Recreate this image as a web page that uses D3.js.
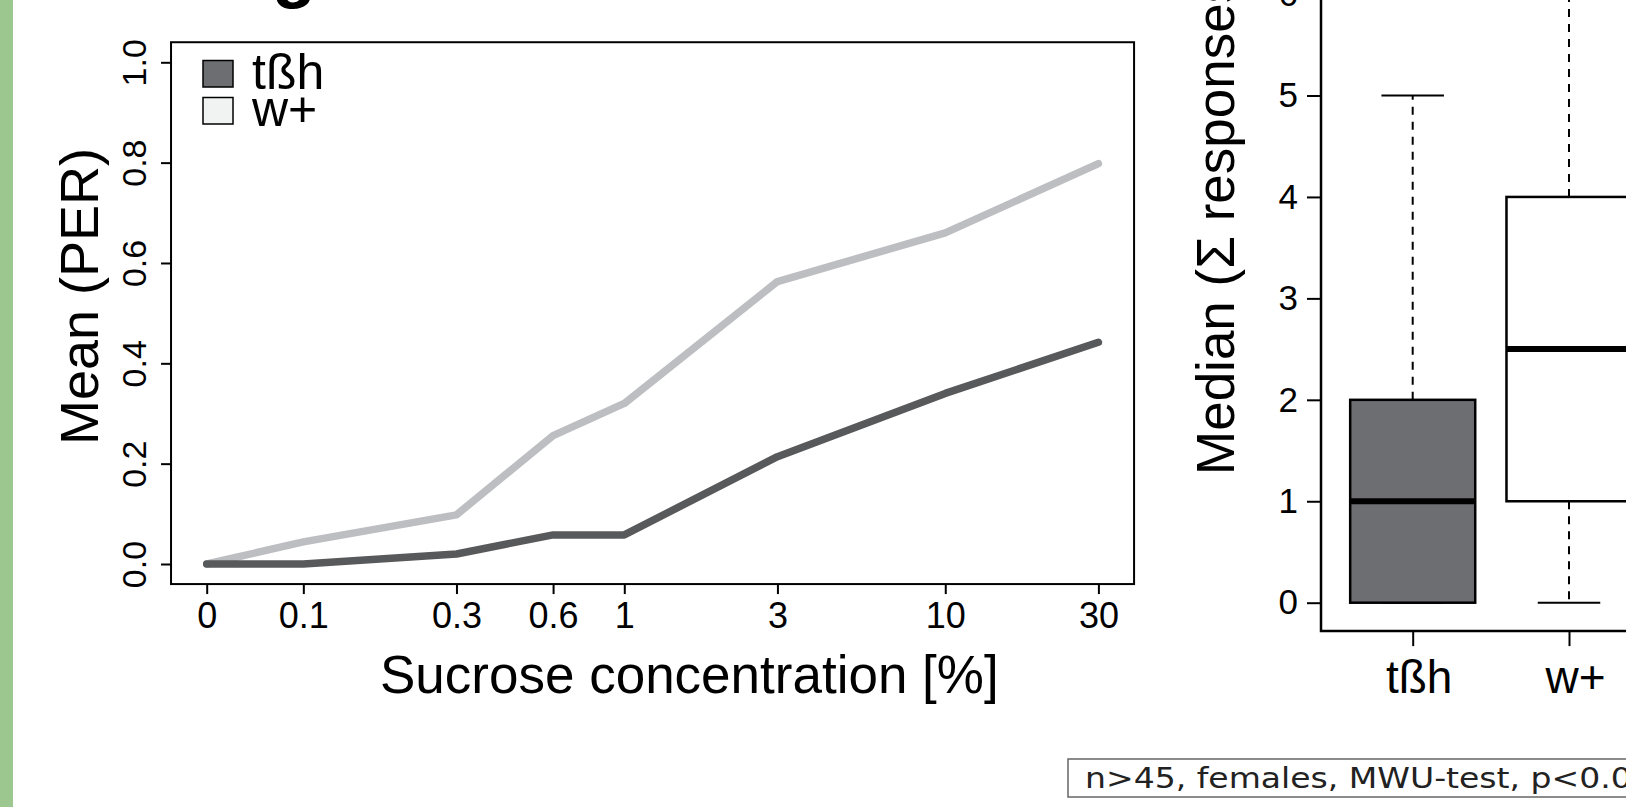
<!DOCTYPE html>
<html>
<meta charset="utf-8">
<style>
  body { margin: 0; background: #fff; }
  svg { display: block; font-family: "Liberation Sans", Arial, sans-serif; }
  .axis path { display: none; }
  .axis line { stroke: #000; stroke-width: 2; }
  .axis text { fill: #000; }
</style>
<body>
<script src="https://cdn.jsdelivr.net/npm/d3@7"></script>
<script>
// --- data ---
var concLabels = ["0", "0.1", "0.3", "0.6", "1", "3", "10", "30"];
var concValues = [0, 0.1, 0.3, 0.6, 1, 3, 10, 30];
var tbhMean = [0, 0, 0.02, 0.058, 0.058, 0.214, 0.34, 0.442];
var wMean   = [0, 0.044, 0.098, 0.256, 0.32, 0.563, 0.66, 0.798];
var yTicks = [0, 0.2, 0.4, 0.6, 0.8, 1.0];

var groups = ["tßh", "w+"];
var boxLow = [0, 1];
var boxHigh = [2, 4];
var medians = [1, 2.5];
var whiskLow = [0, 0];
var whiskHigh = [5, 7];
var boxTicks = [0, 1, 2, 3, 4, 5, 6, 7];

var width = 1626, height = 807;

var svg = d3.select("body").append("svg")
    .attr("width", width)
    .attr("height", height);

// green stripe on the left edge
svg.append("rect").attr("x", 0).attr("y", 0).attr("width", 13).attr("height", height)
    .attr("fill", "#9cc78f");

// cut-off title glyph at the top
svg.append("text").attr("x", 272).attr("y", -6)
    .style("font-size", "72px").style("font-weight", "bold").text("g");

// ---------------- left panel: mean PER ----------------
var zeroAt = 0.05; // "0" is plotted at 0.05 on the log axis
var x = d3.scaleLog().domain([zeroAt, 30]).range([206.7, 1098.4]);
var y = d3.scaleLinear().domain([0, 1]).range([564, 62.3]);
function px(v) { return x(v === 0 ? zeroAt : v); }

var xPad = 0.04 * (x.range()[1] - x.range()[0]);
var yPad = 0.04 * (y.range()[0] - y.range()[1]);

svg.append("rect")
    .attr("x", x.range()[0] - xPad)
    .attr("y", y.range()[1] - yPad)
    .attr("width", x.range()[1] - x.range()[0] + 2 * xPad)
    .attr("height", y.range()[0] - y.range()[1] + 2 * yPad)
    .attr("fill", "none").attr("stroke", "#000").attr("stroke-width", 2);

var bottomY = y.range()[0] + yPad;
var leftX = x.range()[0] - xPad;

var xAxis = svg.append("g").attr("class", "axis")
    .attr("transform", "translate(0," + bottomY + ")")
    .call(d3.axisBottom(x)
        .tickValues(concValues.map(function(d) { return d === 0 ? zeroAt : d; }))
        .tickFormat(function(d, i) { return concLabels[i]; })
        .tickSize(10).tickPadding(8));
xAxis.selectAll("text").style("font-size", "36px").attr("dy", "0.71em");

var yAxis = svg.append("g").attr("class", "axis")
    .attr("transform", "translate(" + leftX + ",0)")
    .call(d3.axisLeft(y).tickValues(yTicks).tickFormat(d3.format(".1f")).tickSize(10));
yAxis.selectAll("text")
    .style("font-size", "34px")
    .attr("transform", "rotate(-90)")
    .attr("x", 0).attr("y", -25).attr("dy", 0)
    .attr("text-anchor", "middle");

var line = d3.line()
    .x(function(d, i) { return px(concValues[i]); })
    .y(function(d) { return y(d); });

svg.append("path").datum(wMean)
    .attr("d", line).attr("fill", "none")
    .attr("stroke", "#bdbec1").attr("stroke-width", 7.5)
    .attr("stroke-linecap", "round").attr("stroke-linejoin", "round");

svg.append("path").datum(tbhMean)
    .attr("d", line).attr("fill", "none")
    .attr("stroke", "#58595b").attr("stroke-width", 7.5)
    .attr("stroke-linecap", "round").attr("stroke-linejoin", "round");

// legend
var legendFill = ["#6d6e71", "#f1f2f2"];
var legend = svg.append("g").selectAll("g").data(groups).enter().append("g")
    .attr("transform", function(d, i) { return "translate(203," + (60.5 + i * 37) + ")"; });
legend.append("rect").attr("width", 30).attr("height", 26.5)
    .attr("fill", function(d, i) { return legendFill[i]; })
    .attr("stroke", "#000").attr("stroke-width", 1.5);
legend.append("text").attr("x", 49).attr("y", 28)
    .style("font-size", "50px").text(function(d) { return d; });

// axis titles
svg.append("text")
    .attr("transform", "translate(98,445) rotate(-90)")
    .style("font-size", "54px").text("Mean (PER)");
svg.append("text")
    .attr("x", 380).attr("y", 693)
    .style("font-size", "53px").text("Sucrose concentration [%]");

// ---------------- right panel: box plot ----------------
var xb = d3.scalePoint().domain(groups).range([1412.7, 1569]);
var yb = d3.scaleLinear().domain([0, 7]).range([602.7, 602.7 - 7 * 101.44]);
var step = xb.step();
var half = 0.4 * step;
var bPad = 0.04 * (yb.range()[0] - yb.range()[1]);
var bAxisX = 1321;
var bBottom = yb.range()[0] + bPad;

svg.append("path")
    .attr("d", "M" + bAxisX + "," + (yb.range()[1] - bPad) + "V" + bBottom + "H" + (width + 20))
    .attr("fill", "none").attr("stroke", "#000").attr("stroke-width", 2.5);

var bY = svg.append("g").attr("class", "axis")
    .attr("transform", "translate(" + bAxisX + ",0)")
    .call(d3.axisLeft(yb).tickValues(boxTicks).tickFormat(d3.format("d")).tickSize(14).tickPadding(9));
bY.selectAll("text").style("font-size", "35px");

var bX = svg.append("g").attr("class", "axis")
    .attr("transform", "translate(0," + bBottom + ")")
    .call(d3.axisBottom(xb).tickSize(15).tickPadding(14));
bX.selectAll("text").style("font-size", "46px").attr("dx", 6).attr("dy", "0.71em");

var boxFill = ["#6d6e71", "#ffffff"];
var boxes = svg.append("g").selectAll("g").data(groups).enter().append("g");

boxes.append("line")
    .attr("x1", function(d) { return xb(d); }).attr("x2", function(d) { return xb(d); })
    .attr("y1", function(d, i) { return yb(boxHigh[i]); })
    .attr("y2", function(d, i) { return yb(whiskHigh[i]); })
    .attr("stroke", "#000").attr("stroke-width", 2).attr("stroke-dasharray", "8,7");
boxes.append("line")
    .attr("x1", function(d) { return xb(d); }).attr("x2", function(d) { return xb(d); })
    .attr("y1", function(d, i) { return yb(boxLow[i]); })
    .attr("y2", function(d, i) { return yb(whiskLow[i]); })
    .attr("stroke", "#000").attr("stroke-width", 2).attr("stroke-dasharray", "8,7");
boxes.append("line")
    .attr("x1", function(d) { return xb(d) - half / 2; }).attr("x2", function(d) { return xb(d) + half / 2; })
    .attr("y1", function(d, i) { return yb(whiskHigh[i]); })
    .attr("y2", function(d, i) { return yb(whiskHigh[i]); })
    .attr("stroke", "#000").attr("stroke-width", 2);
boxes.append("line")
    .attr("x1", function(d) { return xb(d) - half / 2; }).attr("x2", function(d) { return xb(d) + half / 2; })
    .attr("y1", function(d, i) { return yb(whiskLow[i]); })
    .attr("y2", function(d, i) { return yb(whiskLow[i]); })
    .attr("stroke", "#000").attr("stroke-width", 2);
boxes.append("rect")
    .attr("x", function(d) { return xb(d) - half; })
    .attr("y", function(d, i) { return yb(boxHigh[i]); })
    .attr("width", 2 * half)
    .attr("height", function(d, i) { return yb(boxLow[i]) - yb(boxHigh[i]); })
    .attr("fill", function(d, i) { return boxFill[i]; })
    .attr("stroke", "#000").attr("stroke-width", 2.5);
boxes.append("line")
    .attr("x1", function(d) { return xb(d) - half; }).attr("x2", function(d) { return xb(d) + half; })
    .attr("y1", function(d, i) { return yb(medians[i]); })
    .attr("y2", function(d, i) { return yb(medians[i]); })
    .attr("stroke", "#000").attr("stroke-width", 6);

svg.append("text")
    .attr("transform", "translate(1233.5,475) rotate(-90)")
    .style("font-size", "53px").text("Median (Σ responses)");

// note box
svg.append("rect").attr("x", 1068).attr("y", 759).attr("width", 700).attr("height", 38)
    .attr("fill", "#fff").attr("stroke", "#666").attr("stroke-width", 1.5);
svg.append("text")
    .attr("transform", "translate(1085,788) scale(1.14,1)")
    .style("font-family", "'DejaVu Sans', Verdana, sans-serif")
    .style("font-size", "29px").attr("fill", "#222")
    .text("n>45, females, MWU-test, p<0.05");
</script>
</body>
</html>
